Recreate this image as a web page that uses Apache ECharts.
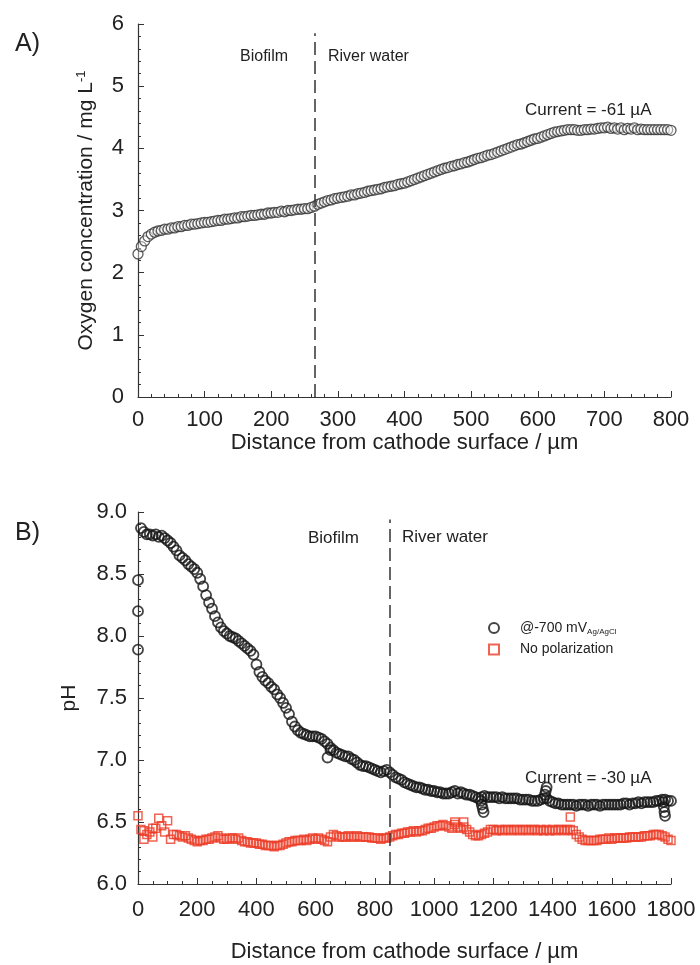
<!DOCTYPE html>
<html>
<head>
<meta charset="utf-8">
<script src="https://cdn.jsdelivr.net/npm/echarts@6/dist/echarts.min.js"></script>
<style>html,body{margin:0;background:#fff}#chart{width:700px;height:965px}</style>
</head>
<body>
<div id="chart"></div>
<script>
// A) oxygen profile, one reading every 5 um from 0 to 800
const oxygenStep = 5;
const oxygen = [
  2.30, 2.42, 2.51, 2.58, 2.62, 2.65, 2.67, 2.68, 2.70, 2.70, 2.72, 2.72, 2.74, 2.74, 2.76, 2.76, 2.78, 2.78, 2.79, 2.80,
  2.81, 2.81, 2.82, 2.83, 2.84, 2.84, 2.86, 2.86, 2.87, 2.88, 2.88, 2.90, 2.90, 2.91, 2.92, 2.92, 2.93, 2.94, 2.94, 2.96,
  2.96, 2.97, 2.97, 2.99, 2.98, 3.00, 3.00, 3.01, 3.02, 3.02, 3.03, 3.03, 3.05, 3.07, 3.10, 3.12, 3.14, 3.16, 3.17, 3.19,
  3.20, 3.21, 3.22, 3.23, 3.25, 3.25, 3.27, 3.28, 3.29, 3.31, 3.32, 3.33, 3.34, 3.35, 3.37, 3.38, 3.39, 3.40, 3.42, 3.43,
  3.44, 3.46, 3.48, 3.50, 3.52, 3.54, 3.56, 3.58, 3.60, 3.62, 3.64, 3.66, 3.68, 3.69, 3.71, 3.72, 3.74, 3.75, 3.77, 3.78,
  3.80, 3.82, 3.84, 3.85, 3.87, 3.89, 3.90, 3.92, 3.94, 3.96, 3.98, 4.00, 4.02, 4.04, 4.06, 4.07, 4.09, 4.11, 4.13, 4.15,
  4.16, 4.18, 4.20, 4.22, 4.24, 4.26, 4.27, 4.28, 4.29, 4.30, 4.30, 4.30, 4.29, 4.29, 4.30, 4.30, 4.31, 4.31, 4.32, 4.33,
  4.33, 4.34, 4.32, 4.33, 4.31, 4.33, 4.30, 4.32, 4.31, 4.33, 4.30, 4.31, 4.30, 4.30, 4.30, 4.30, 4.30, 4.30, 4.30, 4.30,
  4.29
];

// B) pH profiles, one reading every 10 um
const phStep = 10;
const phPolStart = 10;
const phPolarized = [
  8.87, 8.84, 8.82, 8.82, 8.81, 8.82, 8.80, 8.81, 8.79, 8.77,
  8.75, 8.72, 8.69, 8.65, 8.63, 8.61, 8.58, 8.56, 8.54, 8.51,
  8.46, 8.40, 8.33, 8.27, 8.22, 8.16, 8.11, 8.07, 8.04, 8.02,
  8.00, 7.99, 7.98, 7.96, 7.94, 7.92, 7.90, 7.88, 7.85, 7.77,
  7.71, 7.67, 7.64, 7.62, 7.59, 7.57, 7.53, 7.50, 7.46, 7.42,
  7.37, 7.31, 7.27, 7.24, 7.22, 7.21, 7.20, 7.19, 7.19, 7.19,
  7.18, 7.17, 7.15, 7.13, 7.10, 7.08, 7.06, 7.05, 7.04, 7.03,
  7.03, 7.01, 7.00, 6.98, 6.96, 6.95, 6.95, 6.94, 6.93, 6.92,
  6.91, 6.90, 6.91, 6.92, 6.90, 6.88, 6.86, 6.85, 6.84, 6.82,
  6.81, 6.80, 6.79, 6.78, 6.78, 6.77, 6.76, 6.76, 6.75, 6.75,
  6.74, 6.74, 6.73, 6.73, 6.73, 6.74, 6.75, 6.73, 6.74, 6.73,
  6.72, 6.72, 6.71, 6.70, 6.69, 6.70, 6.71, 6.70, 6.70, 6.70,
  6.70, 6.69, 6.70, 6.69, 6.69, 6.69, 6.69, 6.69, 6.68, 6.68,
  6.68, 6.68, 6.67, 6.67, 6.67, 6.68, 6.69, 6.69, 6.67, 6.66,
  6.65, 6.65, 6.64, 6.64, 6.64, 6.64, 6.64, 6.63, 6.64, 6.64,
  6.64, 6.63, 6.64, 6.64, 6.64, 6.63, 6.64, 6.64, 6.64, 6.64,
  6.64, 6.64, 6.64, 6.65, 6.65, 6.64, 6.65, 6.65, 6.66, 6.65,
  6.66, 6.66, 6.66, 6.66, 6.67, 6.67, 6.68, 6.68, 6.67, 6.67
];
const polExtraX = [0, 0, 0, 640, 650, 1158, 1161, 1164, 1167, 1374, 1377, 1380, 1774, 1776, 1778, 1780];
const polExtraY = [8.45, 8.20, 7.89, 7.02, 7.08, 6.67, 6.64, 6.61, 6.58, 6.72, 6.75, 6.78, 6.66, 6.62, 6.58, 6.55];

const phNoPol = [
  6.55, 6.44, 6.36, 6.40, 6.42, 6.38, 6.45, 6.53, 6.47, 6.42,
  6.51, 6.36, 6.40, 6.40, 6.39, 6.38, 6.39, 6.37, 6.36, 6.35,
  6.34, 6.35, 6.35, 6.36, 6.36, 6.37, 6.38, 6.39, 6.37, 6.36,
  6.36, 6.37, 6.37, 6.36, 6.37, 6.35, 6.34, 6.34, 6.33, 6.33,
  6.33, 6.32, 6.32, 6.31, 6.31, 6.31, 6.30, 6.31, 6.31, 6.32,
  6.33, 6.34, 6.34, 6.35, 6.35, 6.35, 6.36, 6.35, 6.36, 6.37,
  6.36, 6.37, 6.36, 6.35, 6.34, 6.38, 6.40, 6.39, 6.38, 6.38,
  6.38, 6.39, 6.38, 6.38, 6.39, 6.38, 6.38, 6.38, 6.38, 6.37,
  6.37, 6.37, 6.36, 6.37, 6.37, 6.38, 6.39, 6.40, 6.40, 6.41,
  6.41, 6.42, 6.42, 6.43, 6.42, 6.43, 6.43, 6.44, 6.45, 6.45,
  6.46, 6.47, 6.47, 6.48, 6.47, 6.46, 6.45, 6.48, 6.46, 6.45,
  6.46, 6.44, 6.42, 6.40, 6.39, 6.39, 6.40, 6.41, 6.42, 6.44,
  6.44, 6.43, 6.44, 6.43, 6.44, 6.44, 6.43, 6.44, 6.44, 6.43,
  6.44, 6.44, 6.43, 6.44, 6.44, 6.43, 6.44, 6.43, 6.44, 6.43,
  6.44, 6.43, 6.44, 6.44, 6.43, 6.44, 6.44, 6.43, 6.40, 6.38,
  6.36, 6.35, 6.35, 6.35, 6.35, 6.35, 6.36, 6.36, 6.36, 6.37,
  6.36, 6.37, 6.37, 6.37, 6.37, 6.37, 6.38, 6.38, 6.38, 6.38,
  6.38, 6.39, 6.39, 6.39, 6.40, 6.40, 6.40, 6.39, 6.38, 6.36,
  6.35
];
const noPolExtraX = [20, 50, 1070, 1100, 1460];
const noPolExtraY = [6.43, 6.45, 6.50, 6.50, 6.54];

const biofilmEdgeA = 265;
const biofilmEdgeB = 850;

const FONT = 'Liberation Sans, Arial, sans-serif';
const INK = '#222';

function pairs(start, step, ys) {
  return ys.map((y, i) => [start + i * step, y]);
}
function extra(xs, ys) {
  return xs.map((x, i) => [x, ys[i]]);
}

function xAxisCfg(grid, max, interval, minorSplit, nameGap, margin) {
  return {
    type: 'value', gridIndex: grid, min: 0, max: max, interval: interval,
    name: 'Distance from cathode surface / µm', nameLocation: 'middle', nameGap: nameGap,
    nameTextStyle: { fontFamily: FONT, fontSize: 22, color: INK },
    axisLine: { show: true, lineStyle: { color: '#333', width: 1.2 } },
    axisTick: { inside: true, length: 6, lineStyle: { color: '#333' } },
    minorTick: { show: true, splitNumber: minorSplit, length: 3, lineStyle: { color: '#333' } },
    axisLabel: { fontFamily: FONT, fontSize: 22, color: INK, margin: margin, formatter: v => String(v) },
    splitLine: { show: false }
  };
}

function yAxisCfg(grid, min, max, interval, name, nameGap, rich, fmt, margin) {
  return {
    type: 'value', gridIndex: grid, min: min, max: max, interval: interval,
    name: name, nameLocation: 'middle', nameGap: nameGap, nameRotate: 90,
    nameTextStyle: { fontFamily: FONT, fontSize: 21, color: INK, rich: rich },
    axisLine: { show: true, lineStyle: { color: '#333', width: 1.2 } },
    axisTick: { inside: true, length: 6, lineStyle: { color: '#333' } },
    minorTick: { show: true, splitNumber: 5, length: 3, lineStyle: { color: '#333' } },
    axisLabel: { fontFamily: FONT, fontSize: 22, color: INK, margin: margin, formatter: fmt },
    splitLine: { show: false }
  };
}

function dashed(x, y0, y1) {
  return {
    silent: true, symbol: ['none', 'none'], label: { show: false },
    lineStyle: { type: [13, 6], color: '#333', width: 1.5 },
    data: [[{ coord: [x, y0] }, { coord: [x, y1] }]]
  };
}

function label(text, x, y, size) {
  return {
    type: 'text', x: x, y: y,
    style: { text: text, fill: INK, font: size + 'px ' + FONT, verticalAlign: 'middle' }
  };
}

const chart = echarts.init(document.getElementById('chart'));
chart.setOption({
  animation: false,
  backgroundColor: '#fff',
  grid: [
    { left: 138, top: 24, width: 533, height: 373 },
    { left: 138, top: 512, width: 533, height: 372 }
  ],
  xAxis: [
    xAxisCfg(0, 800, 100, 5, 31, 12),
    xAxisCfg(1, 1800, 200, 4, 57, 15)
  ],
  yAxis: [
    yAxisCfg(0, 0, 6, 1, 'Oxygen concentration / mg L{sup|-1}', 40,
      { sup: { fontSize: 13, color: INK, fontFamily: FONT, padding: [0, 0, 10, 0] } }, null, 14),
    yAxisCfg(1, 6, 9, 0.5, 'pH', 58, {}, v => v.toFixed(1), 11)
  ],
  legend: {
    orient: 'vertical', left: 483, top: 616,
    itemWidth: 10, itemHeight: 10, itemGap: 7,
    data: ['@-700 mV', 'No polarization'],
    formatter: n => n === '@-700 mV' ? '@-700 mV{sub|Ag/AgCl}' : n,
    textStyle: {
      fontFamily: FONT, fontSize: 14, color: INK, padding: [0, 0, 0, 16],
      rich: { sub: { fontFamily: FONT, fontSize: 8, color: INK, padding: [7, 0, 0, 0] } }
    }
  },
  graphic: [
    label('A)', 15, 44, 25),
    label('Biofilm', 240, 57, 16),
    label('River water', 328, 57, 16),
    label('Current = -61 µA', 525, 110, 17),
    label('B)', 15, 533, 25),
    label('Biofilm', 308, 538, 17),
    label('River water', 402, 537, 17),
    label('Current = -30 µA', 525, 778, 17)
  ],
  series: [
    {
      name: 'oxygen', type: 'scatter', xAxisIndex: 0, yAxisIndex: 0,
      symbol: 'circle', symbolSize: 10,
      itemStyle: { color: 'rgba(255,255,255,0.5)', borderColor: '#333', borderWidth: 1.3 },
      data: pairs(0, oxygenStep, oxygen),
      markLine: dashed(biofilmEdgeA, 0, 5.85)
    },
    {
      name: 'No polarization', type: 'scatter', xAxisIndex: 1, yAxisIndex: 1,
      symbol: 'rect', symbolSize: 8,
      itemStyle: { color: 'rgba(255,255,255,0)', borderColor: '#ec3b25', borderWidth: 1.5 },
      data: pairs(0, phStep, phNoPol).concat(extra(noPolExtraX, noPolExtraY))
    },
    {
      name: '@-700 mV', type: 'scatter', xAxisIndex: 1, yAxisIndex: 1,
      symbol: 'circle', symbolSize: 10,
      itemStyle: { color: 'rgba(255,255,255,0)', borderColor: '#151515', borderWidth: 1.8 },
      data: pairs(phPolStart, phStep, phPolarized).concat(extra(polExtraX, polExtraY)),
      markLine: dashed(biofilmEdgeB, 6, 8.94)
    }
  ]
});
</script>
</body>
</html>
